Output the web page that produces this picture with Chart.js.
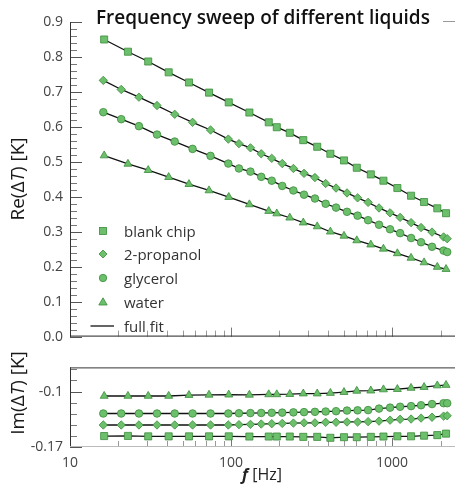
<!DOCTYPE html>
<html>
<head>
<meta charset="utf-8">
<script src="https://cdn.jsdelivr.net/npm/chart.js@4.4.1/dist/chart.umd.min.js"></script>
<style>
body { margin: 0; background: #fff; font-family: 'Open Sans', sans-serif; }
#wrap { position: relative; width: 455px; height: 484px; overflow: hidden; background: #fff; }
canvas { position: absolute; left: 0; }
.title { position: absolute; left: 96px; top: 4px; font-size: 19px; font-weight: 600; color: #111; white-space: nowrap; }
.dash { position: absolute; left: 443px; top: 21px; width: 12px; height: 1px; background: #999; }
.ytitle { position: absolute; transform: translate(-50%, -50%) rotate(-90deg); font-size: 19px; color: #1a1a1a; white-space: nowrap; }
.xtitle { position: absolute; left: 262px; top: 474px; transform: translate(-50%, -50%); font-size: 16px; color: #222; white-space: nowrap; }
.leg { position: absolute; left: 92px; height: 20px; display: flex; align-items: center; font-size: 15px; color: #333; white-space: nowrap; }
.leg svg { width: 22px; height: 20px; margin-right: 10px; }
</style>
</head>
<body>
<div id="wrap">
  <canvas id="reChart" width="455" height="352" style="top:0;width:455px;height:352px"></canvas>
  <canvas id="imChart" width="455" height="132" style="top:352px;width:455px;height:132px"></canvas>
  <div class="title">Frequency sweep of different liquids</div>
  <div class="dash"></div>
  <div class="ytitle" style="left:17px;top:179px">Re(Δ<i>T</i>) [K]</div>
  <div class="ytitle" style="left:17px;top:393px">Im(Δ<i>T</i>) [K]</div>
  <div class="xtitle"><b><i>f</i></b> [Hz]</div>
  <div id="legend"></div>
</div>
<script>
// frequencies [Hz]; blank chip + water share one sweep, 2-propanol + glycerol another
const freqA = [16.3, 22.9, 30.6, 41.0, 54.8, 73.0, 96.8, 130, 171.5, 192.4, 231.7, 281, 343, 414, 503, 604, 738, 884, 1079, 1312, 1581, 1910, 2164];
const freqB = [16.1, 20.8, 26.8, 34.7, 44.7, 57.7, 74.6, 96.2, 112, 132, 154, 179, 208, 244, 284, 332, 387, 449, 525, 611, 710, 830, 972, 1122, 1313, 1514, 1771, 2090, 2200];

// Re(dT) [K]
const blankRe = [0.850, 0.815, 0.787, 0.756, 0.727, 0.698, 0.670, 0.641, 0.613, 0.599, 0.583, 0.562, 0.543, 0.523, 0.504, 0.483, 0.464, 0.446, 0.425, 0.403, 0.385, 0.367, 0.353];
const propanolRe = [0.733, 0.707, 0.685, 0.661, 0.636, 0.613, 0.591, 0.565, 0.552, 0.540, 0.523, 0.510, 0.495, 0.481, 0.467, 0.455, 0.438, 0.425, 0.411, 0.397, 0.384, 0.368, 0.354, 0.341, 0.326, 0.312, 0.299, 0.285, 0.280];
const glycerolRe = [0.642, 0.622, 0.602, 0.578, 0.558, 0.537, 0.517, 0.495, 0.481, 0.472, 0.457, 0.446, 0.431, 0.418, 0.406, 0.395, 0.380, 0.369, 0.357, 0.346, 0.333, 0.320, 0.307, 0.296, 0.282, 0.270, 0.257, 0.246, 0.242];
const waterRe = [0.518, 0.494, 0.476, 0.456, 0.436, 0.418, 0.399, 0.378, 0.359, 0.352, 0.340, 0.326, 0.315, 0.300, 0.288, 0.275, 0.263, 0.251, 0.238, 0.225, 0.212, 0.199, 0.193];

// Im(dT) [K]
const blankIm = [-0.1562, -0.1560, -0.1566, -0.1566, -0.1566, -0.1566, -0.1566, -0.1568, -0.1568, -0.1568, -0.1568, -0.1572, -0.1572, -0.1584, -0.1576, -0.1576, -0.1572, -0.1568, -0.1565, -0.1565, -0.1557, -0.1550, -0.1531];
const propanolIm = [-0.1422, -0.1422, -0.1422, -0.1422, -0.1422, -0.1422, -0.1422, -0.1422, -0.1418, -0.1414, -0.1410, -0.1406, -0.1402, -0.1398, -0.1395, -0.1395, -0.1388, -0.1388, -0.1384, -0.1384, -0.1380, -0.1373, -0.1361, -0.1350, -0.1347, -0.1335, -0.1324, -0.1310, -0.1306];
const glycerolIm = [-0.1277, -0.1277, -0.1277, -0.1277, -0.1277, -0.1277, -0.1277, -0.1277, -0.1274, -0.1272, -0.1270, -0.1268, -0.1266, -0.1263, -0.1260, -0.1256, -0.1252, -0.1248, -0.1240, -0.1237, -0.1234, -0.1215, -0.1203, -0.1192, -0.1184, -0.1173, -0.1158, -0.1147, -0.1147];
const waterIm = [-0.1056, -0.1056, -0.1056, -0.1056, -0.1045, -0.1042, -0.1040, -0.1042, -0.1036, -0.1036, -0.1033, -0.1026, -0.1026, -0.1019, -0.1008, -0.0992, -0.0989, -0.0974, -0.0970, -0.0955, -0.0944, -0.0924, -0.0918];

// axis ticks
const xMajorTicks = [10, 100, 1000];
const xMinorTicks = [20, 30, 40, 50, 60, 70, 80, 90, 200, 300, 400, 500, 600, 700, 800, 900, 2000];
const reMajorTicks = [0, 0.1, 0.2, 0.3, 0.4, 0.5, 0.6, 0.7, 0.8, 0.9];
const imMajorTicks = [-0.17, -0.1];
const imMinorTicks = [-0.156, -0.142, -0.128, -0.114, -0.086, -0.072];

const green = '#6cc06c';
const greenEdge = '#3b8b3b';

function pts(fr, vals) {
    return fr.map((f, i) => ({x: f, y: vals[i]}));
}
function markers(label, fr, vals, style, r) {
    return {label: label, data: pts(fr, vals), showLine: false, pointStyle: style,
        pointRadius: r, pointHoverRadius: r, backgroundColor: green, borderColor: greenEdge, pointBorderWidth: 0.8};
}
function fit(fr, vals) {
    return {label: 'full fit', data: pts(fr, vals), showLine: true, pointRadius: 0,
        borderColor: '#111', borderWidth: 1.3, tension: 0, fill: false};
}

// inward ticks + axis lines
const axisFrame = {
    id: 'axisFrame',
    beforeDatasetsDraw(chart, args, opts) {
        const ctx = chart.ctx, a = chart.chartArea, x = chart.scales.x, y = chart.scales.y;
        const line = (x1, y1, x2, y2, c) => {
            ctx.strokeStyle = c;
            ctx.beginPath(); ctx.moveTo(x1, y1); ctx.lineTo(x2, y2); ctx.stroke();
        };
        ctx.save();
        ctx.lineWidth = 1;
        opts.yMajor.forEach(v => {
            const py = Math.round(y.getPixelForValue(v)) + 0.5;
            line(a.left, py, a.left + 12, py, '#555');
        });
        opts.yMinor.forEach(v => {
            const py = Math.round(y.getPixelForValue(v)) + 0.5;
            line(a.left, py, a.left + 7, py, '#777');
        });
        xMajorTicks.forEach(v => {
            const px = Math.round(x.getPixelForValue(v)) + 0.5;
            line(px, a.bottom, px, a.bottom - 9, '#777');
        });
        xMinorTicks.forEach(v => {
            const px = Math.round(x.getPixelForValue(v)) + 0.5;
            line(px, a.bottom, px, a.bottom - 6, '#999');
        });
        line(a.left + 0.5, a.top, a.left + 0.5, a.bottom, '#333');
        line(a.left, a.bottom - 0.5, a.right, a.bottom - 0.5, opts.bottomColor);
        if (opts.topLine) line(a.left, a.top + 0.5, a.right, a.top + 0.5, '#333');
        ctx.restore();
    }
};

const tickFont = {family: 'Open Sans', size: 14};

// minor ticks every 0.02 on the Re axis
const reMinorTicks = [];
for (let i = 1; i < 45; i++) if (i % 5) reMinorTicks.push(i * 0.02);

new Chart(document.getElementById('reChart'), {
    type: 'scatter',
    data: {
        datasets: [
            markers('blank chip', freqA, blankRe, 'rect', 5),
            markers('2-propanol', freqB, propanolRe, 'rectRot', 4.2),
            markers('glycerol', freqB, glycerolRe, 'circle', 3.8),
            markers('water', freqA, waterRe, 'triangle', 4.6),
            fit(freqA, blankRe), fit(freqB, propanolRe), fit(freqB, glycerolRe), fit(freqA, waterRe)
        ]
    },
    options: {
        responsive: false,
        animation: false,
        layout: {padding: {top: 22, left: 0, right: 0, bottom: 4}, autoPadding: false},
        plugins: {
            legend: {display: false},
            tooltip: {enabled: false},
            axisFrame: {yMajor: reMajorTicks, yMinor: reMinorTicks, bottomColor: '#222', topLine: false}
        },
        scales: {
            x: {type: 'logarithmic', min: 10, max: 2460, grid: {display: false}, border: {display: false},
                ticks: {display: false}, afterFit(s) { s.height = 0; }},
            y: {min: 0, max: 0.9, grid: {display: false, drawTicks: false}, border: {display: false},
                ticks: {stepSize: 0.1, padding: 7, color: '#444', font: tickFont, callback: v => v.toFixed(1)},
                afterFit(s) { s.width = 70; }}
        }
    },
    plugins: [axisFrame]
});

new Chart(document.getElementById('imChart'), {
    type: 'scatter',
    data: {
        datasets: [
            markers('blank chip', freqA, blankIm, 'rect', 5),
            markers('2-propanol', freqB, propanolIm, 'rectRot', 4.2),
            markers('glycerol', freqB, glycerolIm, 'circle', 3.8),
            markers('water', freqA, waterIm, 'triangle', 4.6),
            fit(freqA, blankIm), fit(freqB, propanolIm), fit(freqB, glycerolIm), fit(freqA, waterIm)
        ]
    },
    options: {
        responsive: false,
        animation: false,
        layout: {padding: {top: 6, left: 0, right: 0, bottom: 0}, autoPadding: false},
        plugins: {
            legend: {display: false},
            tooltip: {enabled: false},
            axisFrame: {yMajor: imMajorTicks, yMinor: imMinorTicks, bottomColor: '#bbb', topLine: true}
        },
        scales: {
            x: {type: 'logarithmic', min: 10, max: 2460, grid: {display: false, drawTicks: false}, border: {display: false},
                afterBuildTicks(s) { s.ticks = xMajorTicks.map(v => ({value: v})); },
                ticks: {autoSkip: false, maxRotation: 0, minRotation: 0, padding: 8, color: '#444', font: tickFont,
                    callback: v => String(v)},
                afterFit(s) { s.height = 37; }},
            y: {min: -0.17, max: -0.0695, grid: {display: false, drawTicks: false}, border: {display: false},
                afterBuildTicks(s) { s.ticks = imMajorTicks.map(v => ({value: v})); },
                ticks: {padding: 7, color: '#444', font: tickFont, callback: v => String(v)},
                afterFit(s) { s.width = 70; }}
        }
    },
    plugins: [axisFrame]
});

// legend inside the Re panel
const legendRows = [
    {label: 'blank chip', top: 221, svg: '<rect x="7.5" y="6.5" width="7" height="7"/>'},
    {label: '2-propanol', top: 244, svg: '<polygon points="11,6 15,10 11,14 7,10"/>'},
    {label: 'glycerol', top: 268, svg: '<circle cx="11" cy="10" r="3.7"/>'},
    {label: 'water', top: 292, svg: '<polygon points="11,5.8 15.2,13 6.8,13"/>'},
    {label: 'full fit', top: 316, svg: null}
];
const legendEl = document.getElementById('legend');
for (const row of legendRows) {
    const div = document.createElement('div');
    div.className = 'leg';
    div.style.top = row.top + 'px';
    if (row.svg) {
        div.innerHTML = '<svg viewBox="0 0 22 20"><g fill="' + green + '" stroke="' + greenEdge + '" stroke-width="0.8">' +
            row.svg + '</g></svg><span>' + row.label + '</span>';
    } else {
        div.style.left = '90px';
        div.innerHTML = '<svg viewBox="0 0 24 20" style="width:24px;margin-right:10px"><line x1="0.5" y1="10" x2="24" y2="10" stroke="#111" stroke-width="1.3"/></svg><span>' + row.label + '</span>';
    }
    legendEl.appendChild(div);
}
</script>
</body>
</html>
